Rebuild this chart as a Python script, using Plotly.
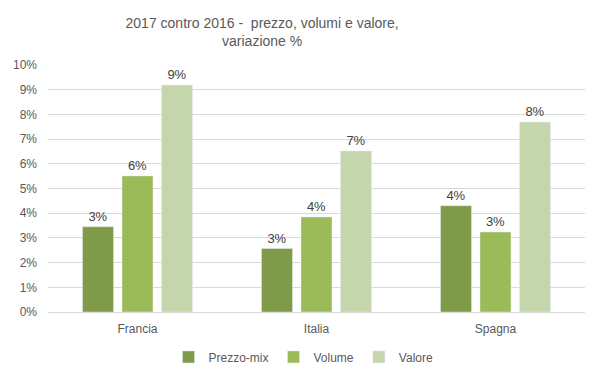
import plotly.graph_objects as go

categories = ["Francia", "Italia", "Spagna"]
prezzo_mix = [0.0345, 0.0257, 0.0430]
volume = [0.0551, 0.0385, 0.0324]
valore = [0.0919, 0.0652, 0.0769]
series_names = ["Prezzo-mix", "Volume", "Valore"]
colors = ["#7F9A48", "#9BBB59", "#C6D6AC"]

FONT = "Liberation Sans"
fig = go.Figure()
for name, vals, col in zip(series_names, [prezzo_mix, volume, valore], colors):
    fig.add_trace(go.Bar(
        x=categories, y=vals, name=name, marker_color=col,
        texttemplate="%{y:.0%}", textposition="outside",
        textfont=dict(family=FONT, size=13, color="#404040"),
        cliponaxis=False,
    ))

fig.update_layout(
    width=591, height=370,
    margin=dict(l=40, r=14, t=57, b=66, autoexpand=False),
    paper_bgcolor="white", plot_bgcolor="white",
    barmode="group", bargap=0.338, bargroupgap=0.215,
    title=dict(text="2017 contro 2016 -  prezzo, volumi e valore,<br>variazione %",
               x=0.430, xref="container", xanchor="center",
               y=0.947, yref="container", yanchor="top",
               font=dict(family=FONT, size=14, color="#595959")),
    font=dict(family=FONT, size=12, color="#595959"),
    legend=dict(orientation="h", x=0.5, xref="container", xanchor="center",
                y=0.057, yref="container", yanchor="middle",
                font=dict(family=FONT, size=12, color="#595959"),
                itemwidth=30, traceorder="normal"),
    showlegend=True,
)
fig.update_yaxes(range=[0, 0.1], dtick=0.01, tickformat=".0%",
                 showgrid=True, gridcolor="#D9D9D9", gridwidth=1,
                 zeroline=False, showline=False, ticks="", automargin=False,
                 ticklabelstandoff=10,
                 tickfont=dict(family=FONT, size=12, color="#595959"))
fig.update_xaxes(showline=True, linecolor="#D9D9D9", linewidth=1, ticks="",
                 automargin=False, ticklabelstandoff=6,
                 tickfont=dict(family=FONT, size=12, color="#595959"))

fig.write_html("out.html")
